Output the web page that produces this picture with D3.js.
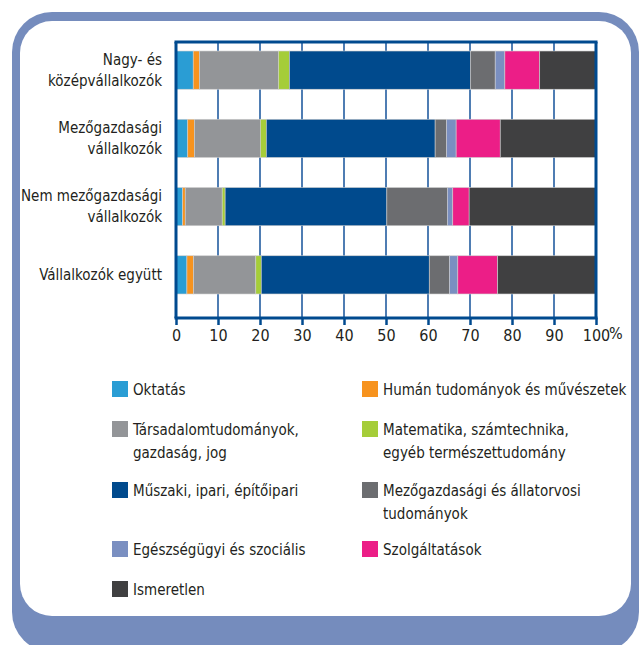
<!DOCTYPE html>
<html><head><meta charset="utf-8">
<script src="https://cdn.jsdelivr.net/npm/d3@7"></script>
<style>
html,body{margin:0;padding:0;background:#fff;}
text{font-family:"DejaVu Sans Condensed","DejaVu Sans",sans-serif;font-stretch:condensed;fill:#231f20;}
</style></head>
<body><svg id="c" width="640" height="645"></svg>
<script>
const categories = ["Nagy- és|középvállalkozók","Mezőgazdasági|vállalkozók","Nem mezőgazdasági|vállalkozók","Vállalkozók együtt"];
const seriesNames = ["Oktatás","Humán tudományok és művészetek","Társadalomtudományok,|gazdaság, jog","Matematika, számtechnika,|egyéb természettudomány","Műszaki, ipari, építőipari","Mezőgazdasági és állatorvosi|tudományok","Egészségügyi és szociális","Szolgáltatások","Ismeretlen"];
const seriesColors = ["#2a9dd4","#f7931e","#939598","#a5cd39","#004a8d","#6c6d70","#7a8fc1","#ec1e87","#404041"];
const valNagy = [4.1,1.5,18.8,2.6,43.1,5.9,2.3,8.3,13.4];
const valMezo = [2.8,1.6,15.7,1.4,40.2,2.7,2.3,10.5,22.8];
const valNemMezo = [1.6,0.6,8.8,0.7,38.5,14.4,1.3,3.9,30.2];
const valEgyutt = [2.6,1.6,14.8,1.3,40.0,4.8,2.0,9.5,23.4];
const tickValues = [0,10,20,30,40,50,60,70,80,90,100];

const values = [valNagy,valMezo,valNemMezo,valEgyutt];
const svg = d3.select("#c");
const FS = 15;

// frame
svg.append("rect").attr("x",12).attr("y",12).attr("width",627).attr("height",640).attr("rx",40).attr("fill","#758cbd");
svg.append("rect").attr("x",20).attr("y",21).attr("width",611).attr("height",595).attr("rx",32).attr("fill","#fff");

const x = d3.scaleLinear().domain([0,100]).range([176,596]);
const y = d3.scaleBand().domain(d3.range(categories.length)).range([36,309]).paddingInner(0.44).paddingOuter(0.22);
const plotTop = 42, plotBottom = 318;

// gridlines
svg.append("g").selectAll("line").data(tickValues.slice(1,-1)).join("line")
  .attr("x1",d=>x(d)).attr("x2",d=>x(d)).attr("y1",plotTop).attr("y2",plotBottom)
  .attr("stroke","#4f7db3").attr("stroke-width",2);

// bars
const rows = values.map((vals,i)=>{
  let acc=0; return vals.map((v,j)=>{const s={i,j,x0:acc,x1:acc+v}; acc+=v; return s;});
});
svg.append("g").selectAll("g").data(rows).join("g").selectAll("rect").data(d=>d).join("rect")
  .attr("x",d=>x(d.x0)).attr("width",d=>x(d.x1)-x(d.x0))
  .attr("y",d=>y(d.i)).attr("height",y.bandwidth())
  .attr("fill",d=>seriesColors[d.j]).attr("stroke","#cfcfcf").attr("stroke-width",0.6);

// frame lines
svg.append("line").attr("x1",x(0)-1.5).attr("x2",x(100)+1.5).attr("y1",plotTop).attr("y2",plotTop).attr("stroke","#004a8f").attr("stroke-width",3);
svg.append("line").attr("x1",x(0)).attr("x2",x(0)).attr("y1",plotTop).attr("y2",plotBottom).attr("stroke","#004a8f").attr("stroke-width",3);
svg.append("line").attr("x1",x(100)).attr("x2",x(100)).attr("y1",plotTop).attr("y2",plotBottom).attr("stroke","#004a8f").attr("stroke-width",3);

// x axis
const ax = svg.append("g").attr("transform",`translate(0,${plotBottom})`)
  .call(d3.axisBottom(x).tickValues(tickValues).tickSize(7).tickPadding(5).tickFormat(d=>d));
ax.select(".domain").attr("stroke","#004a8f").attr("stroke-width",3).attr("d",`M${x(0)-1.5},0H${x(100)+1.5}`);
ax.selectAll(".tick line").attr("stroke","#004a8f").attr("stroke-width",2.5);
ax.selectAll(".tick text").attr("font-size",FS+1).attr("fill","#231f20").style("font-family",'"DejaVu Sans Condensed","DejaVu Sans",sans-serif').style("font-stretch","condensed");
svg.append("text").attr("x",x(100)+13).attr("y",plotBottom+21).attr("font-size",FS+1).text("%");

// category labels
categories.forEach((c,i)=>{
  const lines=c.split("|");
  const cy=y(i)+y.bandwidth()/2;
  const t=svg.append("text").attr("text-anchor","end").attr("font-size",FS);
  lines.forEach((l,k)=>{
    t.append("tspan").attr("x",162).attr("y",cy+5+(k-(lines.length-1)/2)*21).text(l);
  });
});

// legend
const legPos = [[112,389],[362,389],[112,429],[362,429],[112,490],[362,490],[112,549],[362,549],[112,589]];
seriesNames.forEach((s,j)=>{
  const [lx,ly]=legPos[j];
  svg.append("rect").attr("x",lx).attr("y",ly-8).attr("width",16).attr("height",16).attr("fill",seriesColors[j]);
  const t=svg.append("text").attr("font-size",FS);
  s.split("|").forEach((l,k)=>{
    t.append("tspan").attr("x",lx+21).attr("y",ly+6+k*23).text(l);
  });
});
</script></body></html>
